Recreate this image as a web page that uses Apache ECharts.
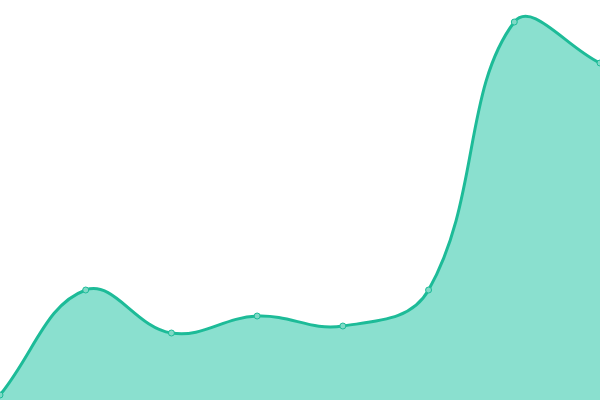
<!DOCTYPE html>
<html><head><meta charset="utf-8">
<script src="https://cdn.jsdelivr.net/npm/echarts@6/dist/echarts.min.js"></script>
<style>html,body{margin:0;padding:0;background:#fff}#c{width:600px;height:400px}</style>
</head><body><div id="c"></div>
<script>
var categories = ['1','2','3','4','5','6','7','8'];
var values = [5, 110, 67, 84, 74, 110, 378, 337];
var TENSION = 0.4;
var LINE = '#1dbb98';
var AREA = '#8ae0cf';

function splinePath(pts, area) {
  var n = pts.length, cps = [];
  for (var i = 0; i < n; i++) {
    var p = pts[Math.max(i - 1, 0)], c = pts[i], nx = pts[Math.min(i + 1, n - 1)];
    var d01 = Math.hypot(c[0] - p[0], c[1] - p[1]);
    var d12 = Math.hypot(nx[0] - c[0], nx[1] - c[1]);
    var s01 = d01 / (d01 + d12 || 1), s12 = d12 / (d01 + d12 || 1);
    s01 = isNaN(s01) ? 0 : s01; s12 = isNaN(s12) ? 0 : s12;
    var fa = TENSION * s01, fb = TENSION * s12;
    var cpPrev = [c[0] - fa * (nx[0] - p[0]), c[1] - fa * (nx[1] - p[1])];
    var cpNext = [c[0] + fb * (nx[0] - p[0]), c[1] + fb * (nx[1] - p[1])];
    cps.push([cpPrev, cpNext]);
  }
  var clampY = function (y) { return Math.max(area.y, Math.min(area.y + area.height, y)); };
  var clampX = function (x) { return Math.max(area.x, Math.min(area.x + area.width, x)); };
  var d = 'M' + pts[0][0] + ' ' + pts[0][1];
  for (var j = 1; j < n; j++) {
    var a = cps[j - 1][1], b = cps[j][0];
    d += ' C' + clampX(a[0]) + ' ' + clampY(a[1]) + ' ' + clampX(b[0]) + ' ' + clampY(b[1]) + ' ' + pts[j][0] + ' ' + pts[j][1];
  }
  return d;
}

var chart = echarts.init(document.getElementById('c'));
chart.setOption({
  animation: false,
  grid: {left: 0, right: 0, top: 0, bottom: 0},
  xAxis: {type: 'category', data: categories, boundaryGap: false, show: false},
  yAxis: {type: 'value', min: 0, max: 400, show: false},
  series: [{
    type: 'custom',
    data: values.map(function (v, i) { return [i, v]; }),
    encode: {x: 0, y: 1},
    clip: false,
    renderItem: function (params, api) {
      if (params.dataIndex !== 0) return;
      var cs = params.coordSys;
      var pts = values.map(function (v, i) { return api.coord([i, v]); });
      var d = splinePath(pts, cs);
      var base = api.coord([0, 0])[1];
      var areaD = d + ' L' + pts[pts.length - 1][0] + ' ' + base + ' L' + pts[0][0] + ' ' + base + ' Z';
      return {
        type: 'group',
        children: [
          {type: 'path', shape: {pathData: areaD}, style: {fill: AREA, stroke: null}},
          {type: 'path', shape: {pathData: d}, style: {fill: null, stroke: LINE, lineWidth: 3}}
        ]
      };
    }
  }, {
    type: 'scatter',
    data: values,
    symbol: 'circle',
    symbolSize: 6,
    z: 5,
    itemStyle: {color: '#7fd9c6', borderColor: LINE, borderWidth: 1, opacity: 1}
  }]
});
</script></body></html>
